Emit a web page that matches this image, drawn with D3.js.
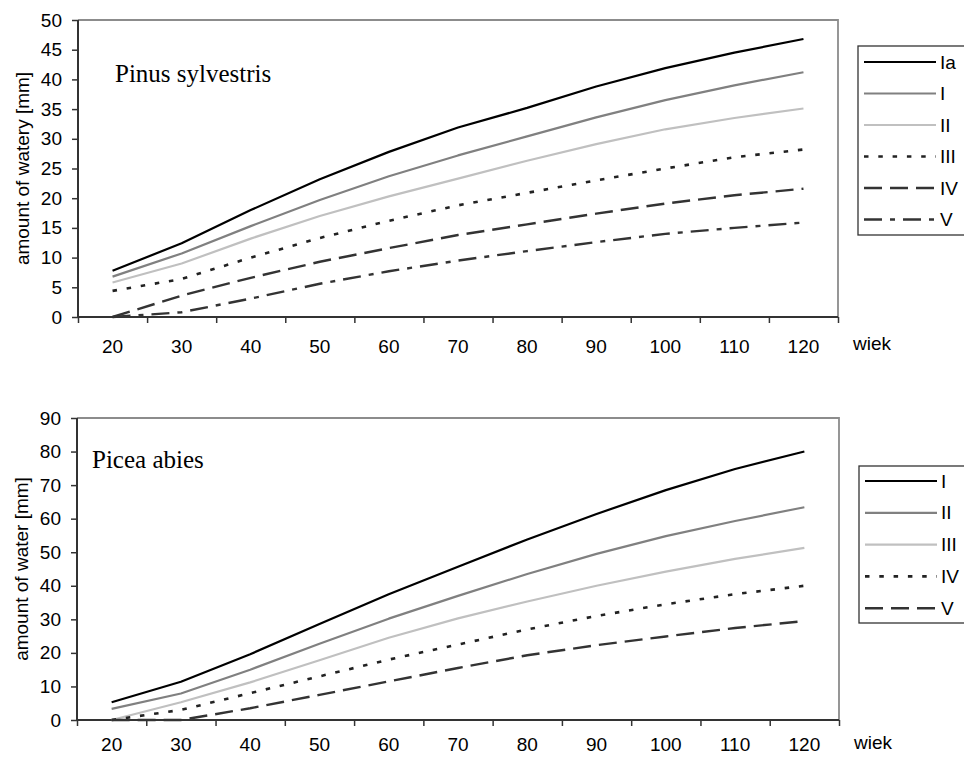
<!DOCTYPE html>
<html>
<head>
<meta charset="utf-8">
<script src="https://cdn.jsdelivr.net/npm/d3@7"></script>
<style>
  html, body { margin: 0; padding: 0; background: #fff; overflow: hidden; }
  svg { display: block; font-family: "Liberation Sans", Arial, sans-serif; }
</style>
</head>
<body>
<svg id="chart" width="964" height="759"></svg>
<script>
// ---------- data ----------
const ages = [20, 30, 40, 50, 60, 70, 80, 90, 100, 110, 120];

// Pinus sylvestris
const pinusNames = ["Ia", "I", "II", "III", "IV", "V"];
const pinusIa  = [7.8, 12.4, 18.0, 23.2, 27.8, 31.9, 35.2, 38.8, 41.9, 44.5, 46.8];
const pinusI   = [6.8, 10.7, 15.3, 19.7, 23.7, 27.2, 30.4, 33.6, 36.5, 39.0, 41.2];
const pinusII  = [5.8, 9.0, 13.2, 17.0, 20.3, 23.3, 26.3, 29.1, 31.6, 33.5, 35.1];
const pinusIII = [4.4, 6.4, 10.0, 13.3, 16.2, 18.8, 20.9, 23.0, 25.0, 26.9, 28.2];
const pinusIV  = [0, 3.6, 6.6, 9.3, 11.6, 13.8, 15.6, 17.4, 19.1, 20.5, 21.6];
const pinusV   = [0, 0.8, 3.1, 5.6, 7.7, 9.5, 11.1, 12.6, 14.0, 15.0, 15.9];
const pinusTicks = [0, 5, 10, 15, 20, 25, 30, 35, 40, 45, 50];

// Picea abies
const piceaNames = ["I", "II", "III", "IV", "V"];
const piceaI   = [5.3, 11.4, 19.6, 28.6, 37.5, 45.7, 53.8, 61.4, 68.5, 74.8, 80.0];
const piceaII  = [3.3, 7.9, 15.0, 22.7, 30.2, 37.0, 43.5, 49.5, 54.8, 59.3, 63.4];
const piceaIII = [0, 5.3, 11.2, 17.8, 24.5, 30.3, 35.3, 40.0, 44.2, 48.0, 51.3];
const piceaIV  = [0, 3.0, 8.0, 13.0, 18.0, 22.5, 27.0, 31.0, 34.5, 37.5, 40.0];
const piceaV   = [0, 0, 3.5, 7.5, 11.5, 15.5, 19.3, 22.3, 24.9, 27.4, 29.5];
const piceaTicks = [0, 10, 20, 30, 40, 50, 60, 70, 80, 90];

// ---------- styles ----------
const ST = {
  black:   { stroke: "#000000", width: 2.2, dash: null },
  gray:    { stroke: "#808080", width: 2.2, dash: null },
  light:   { stroke: "#c0c0c0", width: 2.2, dash: null },
  dotted:  { stroke: "#222222", width: 2.6, dash: "4.5,9.8" },
  dashed:  { stroke: "#333333", width: 2.4, dash: "18,8" },
  dashdot: { stroke: "#333333", width: 2.4, dash: "18,8,5,8" }
};

const svg = d3.select("#chart");

function drawChart(cfg) {
  const g = svg.append("g");
  const x = d3.scaleBand().domain(ages).range([cfg.left, cfg.right]).padding(0);
  const xb = d3.scaleLinear().domain([0, ages.length]).range([cfg.left, cfg.right]);
  const y = d3.scaleLinear().domain([0, cfg.ymax]).range([cfg.bottom, cfg.top]);

  // plot frame (top/right gray)
  g.append("path")
    .attr("d", `M${cfg.left},${cfg.top}H${cfg.right}V${cfg.bottom}`)
    .attr("fill", "none").attr("stroke", "#8c8c8c").attr("stroke-width", 1.8);

  // y axis
  const ya = g.append("g").attr("transform", `translate(${cfg.left},0)`)
    .call(d3.axisLeft(y).tickValues(cfg.ticks).tickSize(6).tickPadding(10).tickFormat(d3.format("d")));
  ya.select(".domain").remove();
  ya.selectAll("line").attr("stroke", "#333").attr("stroke-width", 1.5);
  ya.selectAll("text").attr("font-size", 19).attr("fill", "#000")
    .attr("font-family", "'Liberation Sans', Arial, sans-serif");

  // x axis ticks at band boundaries
  const xt = g.append("g").attr("transform", `translate(0,${cfg.bottom})`)
    .call(d3.axisBottom(xb).tickValues(d3.range(0, ages.length + 1)).tickSize(6).tickFormat(""));
  xt.select(".domain").remove();
  xt.selectAll("line").attr("stroke", "#333").attr("stroke-width", 1.5);

  // x axis labels at band centres
  const xl = g.append("g").attr("transform", `translate(0,${cfg.bottom})`)
    .call(d3.axisBottom(x).tickSize(0).tickPadding(cfg.xPad));
  xl.select(".domain").remove();
  xl.selectAll("text").attr("font-size", 19).attr("fill", "#000")
    .attr("font-family", "'Liberation Sans', Arial, sans-serif");

  // axis lines
  g.append("path")
    .attr("d", `M${cfg.left},${cfg.top}V${cfg.bottom}H${cfg.right}`)
    .attr("fill", "none").attr("stroke", "#333").attr("stroke-width", 2);

  // series
  const line = d3.line().x((d, i) => x(ages[i]) + x.bandwidth() / 2).y(d => y(d));
  cfg.series.forEach(s => {
    const st = ST[s.style];
    g.append("path").datum(s.values)
      .attr("d", line)
      .attr("fill", "none")
      .attr("stroke", st.stroke)
      .attr("stroke-width", st.width)
      .attr("stroke-dasharray", st.dash)
      .attr("stroke-linejoin", "round");
  });

  // species title
  g.append("text").attr("x", cfg.titleX).attr("y", cfg.titleY)
    .attr("font-family", "'Liberation Serif', 'Times New Roman', serif")
    .attr("font-size", 25).attr("fill", "#000").text(cfg.title);

  // y axis title
  g.append("text")
    .attr("transform", `translate(${cfg.ytitleX},${(cfg.top + cfg.bottom) / 2}) rotate(-90)`)
    .attr("text-anchor", "middle").attr("dominant-baseline", "central")
    .attr("font-size", 19).attr("fill", "#000").text(cfg.ytitle);

  // x axis title
  g.append("text").attr("x", cfg.right + 15).attr("y", cfg.bottom + cfg.wiekDy)
    .attr("font-size", 19).attr("fill", "#000").text("wiek");

  // legend
  const lg = g.append("g");
  lg.append("rect").attr("x", cfg.legX).attr("y", cfg.legY)
    .attr("width", 140).attr("height", cfg.legH)
    .attr("fill", "#fff").attr("stroke", "#333").attr("stroke-width", 1.3);
  cfg.series.forEach((s, i) => {
    const st = ST[s.style];
    const yy = cfg.legRow0 + i * cfg.legStep;
    lg.append("line").attr("x1", cfg.legX + 6).attr("x2", cfg.legX + 78)
      .attr("y1", yy).attr("y2", yy)
      .attr("stroke", st.stroke).attr("stroke-width", st.width)
      .attr("stroke-dasharray", st.dash);
    lg.append("text").attr("x", cfg.legX + 82).attr("y", yy)
      .attr("dominant-baseline", "central")
      .attr("font-size", 19).attr("fill", "#000").text(s.name);
  });
}

const pinusVals = [pinusIa, pinusI, pinusII, pinusIII, pinusIV, pinusV];
const pinusStyles = ["black", "gray", "light", "dotted", "dashed", "dashdot"];
drawChart({
  left: 78, right: 838, top: 20, bottom: 317, ymax: 50, ticks: pinusTicks,
  xPad: 23, wiekDy: 33,
  title: "Pinus sylvestris", titleX: 115, titleY: 82,
  ytitle: "amount of watery [mm]", ytitleX: 22,
  legX: 858, legY: 46, legH: 189, legRow0: 62, legStep: 31.5,
  series: pinusNames.map((nm, i) => ({ name: nm, values: pinusVals[i], style: pinusStyles[i] }))
});

const piceaVals = [piceaI, piceaII, piceaIII, piceaIV, piceaV];
const piceaStyles = ["black", "gray", "light", "dotted", "dashed"];
drawChart({
  left: 77, right: 839, top: 418, bottom: 720, ymax: 90, ticks: piceaTicks,
  xPad: 18, wiekDy: 29,
  title: "Picea abies", titleX: 92, titleY: 468,
  ytitle: "amount of water [mm]", ytitleX: 21,
  legX: 859, legY: 466, legH: 157, legRow0: 481, legStep: 31.8,
  series: piceaNames.map((nm, i) => ({ name: nm, values: piceaVals[i], style: piceaStyles[i] }))
});
</script>
</body>
</html>
